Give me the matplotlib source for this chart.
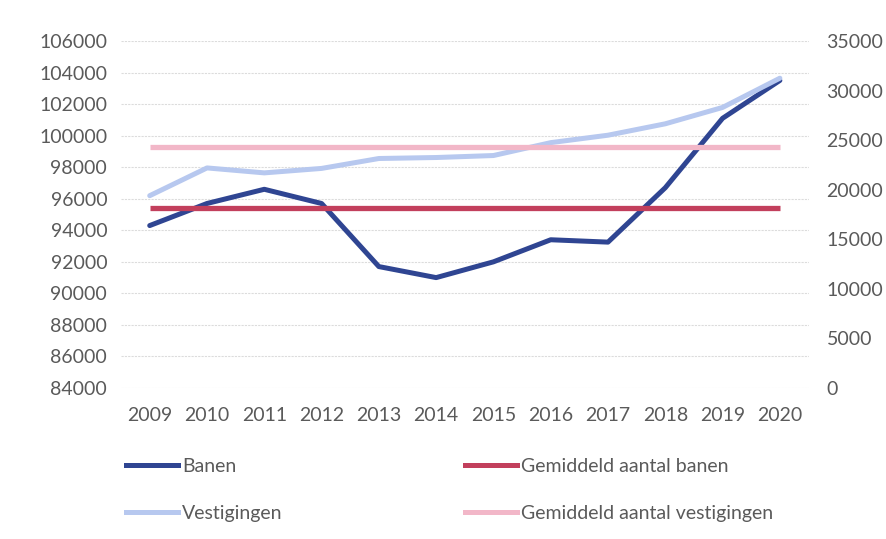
import matplotlib
matplotlib.use('Agg')
import matplotlib.pyplot as plt
from matplotlib.lines import Line2D

years = [2009, 2010, 2011, 2012, 2013, 2014, 2015, 2016, 2017, 2018, 2019, 2020]
banen = [94300, 95700, 96600, 95700, 91700, 91000, 92000, 93400, 93250, 96700, 101100, 103500]
vestigingen = [19400, 22200, 21700, 22150, 23150, 23250, 23450, 24750, 25500, 26650, 28300, 31250]
gem_banen = [95400] * len(years)
gem_vestigingen = [24300] * len(years)

left_ticks = list(range(84000, 106001, 2000))
right_ticks = list(range(0, 35001, 5000))

C_BANEN = '#2f4592'
C_VEST = '#b7c8ef'
C_GEM_B = '#c23f5c'
C_GEM_V = '#f2b7c8'
C_TXT = '#5a5a5a'

plt.rcParams['font.family'] = ['Lato', 'DejaVu Sans']

fig = plt.figure(figsize=(8.87, 5.39), dpi=100)
ax = fig.add_axes([0.1365, 0.2801, 0.775, 0.6438])
ax2 = ax.twinx()

x = list(range(len(years)))
ax.plot(x, banen, color=C_BANEN, lw=3.6, solid_capstyle='round', zorder=3)
ax.plot(x, gem_banen, color=C_GEM_B, lw=3.8, solid_capstyle='butt', zorder=4)
ax2.plot(x, vestigingen, color=C_VEST, lw=3.6, solid_capstyle='round', zorder=3)
ax2.plot(x, gem_vestigingen, color=C_GEM_V, lw=3.8, solid_capstyle='butt', zorder=4)

ax.set_xlim(-0.5, len(years) - 0.5)
ax.set_ylim(84000, 106000)
ax2.set_ylim(0, 35000)
ax.set_xticks(x)
ax.set_xticklabels([str(y) for y in years])
ax.set_yticks(left_ticks)
ax2.set_yticks(right_ticks)

for a in (ax, ax2):
    for s in a.spines.values():
        s.set_visible(False)
    a.tick_params(length=0, labelsize=14, colors=C_TXT)
ax.tick_params(axis='y', pad=10)
ax2.tick_params(axis='y', pad=13)
ax.tick_params(axis='x', pad=14)
ax.grid(axis='y', color='#dcdcdc', lw=0.8, ls=(0, (2, 1)))
ax.set_axisbelow(True)

handles = [
    Line2D([], [], color=C_BANEN, lw=3.6, label='Banen'),
    Line2D([], [], color=C_VEST, lw=3.6, label='Vestigingen'),
    Line2D([], [], color=C_GEM_B, lw=3.6, label='Gemiddeld aantal banen'),
    Line2D([], [], color=C_GEM_V, lw=3.6, label='Gemiddeld aantal vestigingen'),
]
leg = fig.legend(handles=handles, loc='upper left', bbox_to_anchor=(0.142, 0.15),
                 ncol=2, frameon=False, fontsize=14, handlelength=2.7,
                 handletextpad=0.2, columnspacing=9.35, labelspacing=1.55,
                 borderaxespad=0, borderpad=0)
for t in leg.get_texts():
    t.set_color(C_TXT)

fig.savefig('out.png', dpi=100, facecolor='white')
